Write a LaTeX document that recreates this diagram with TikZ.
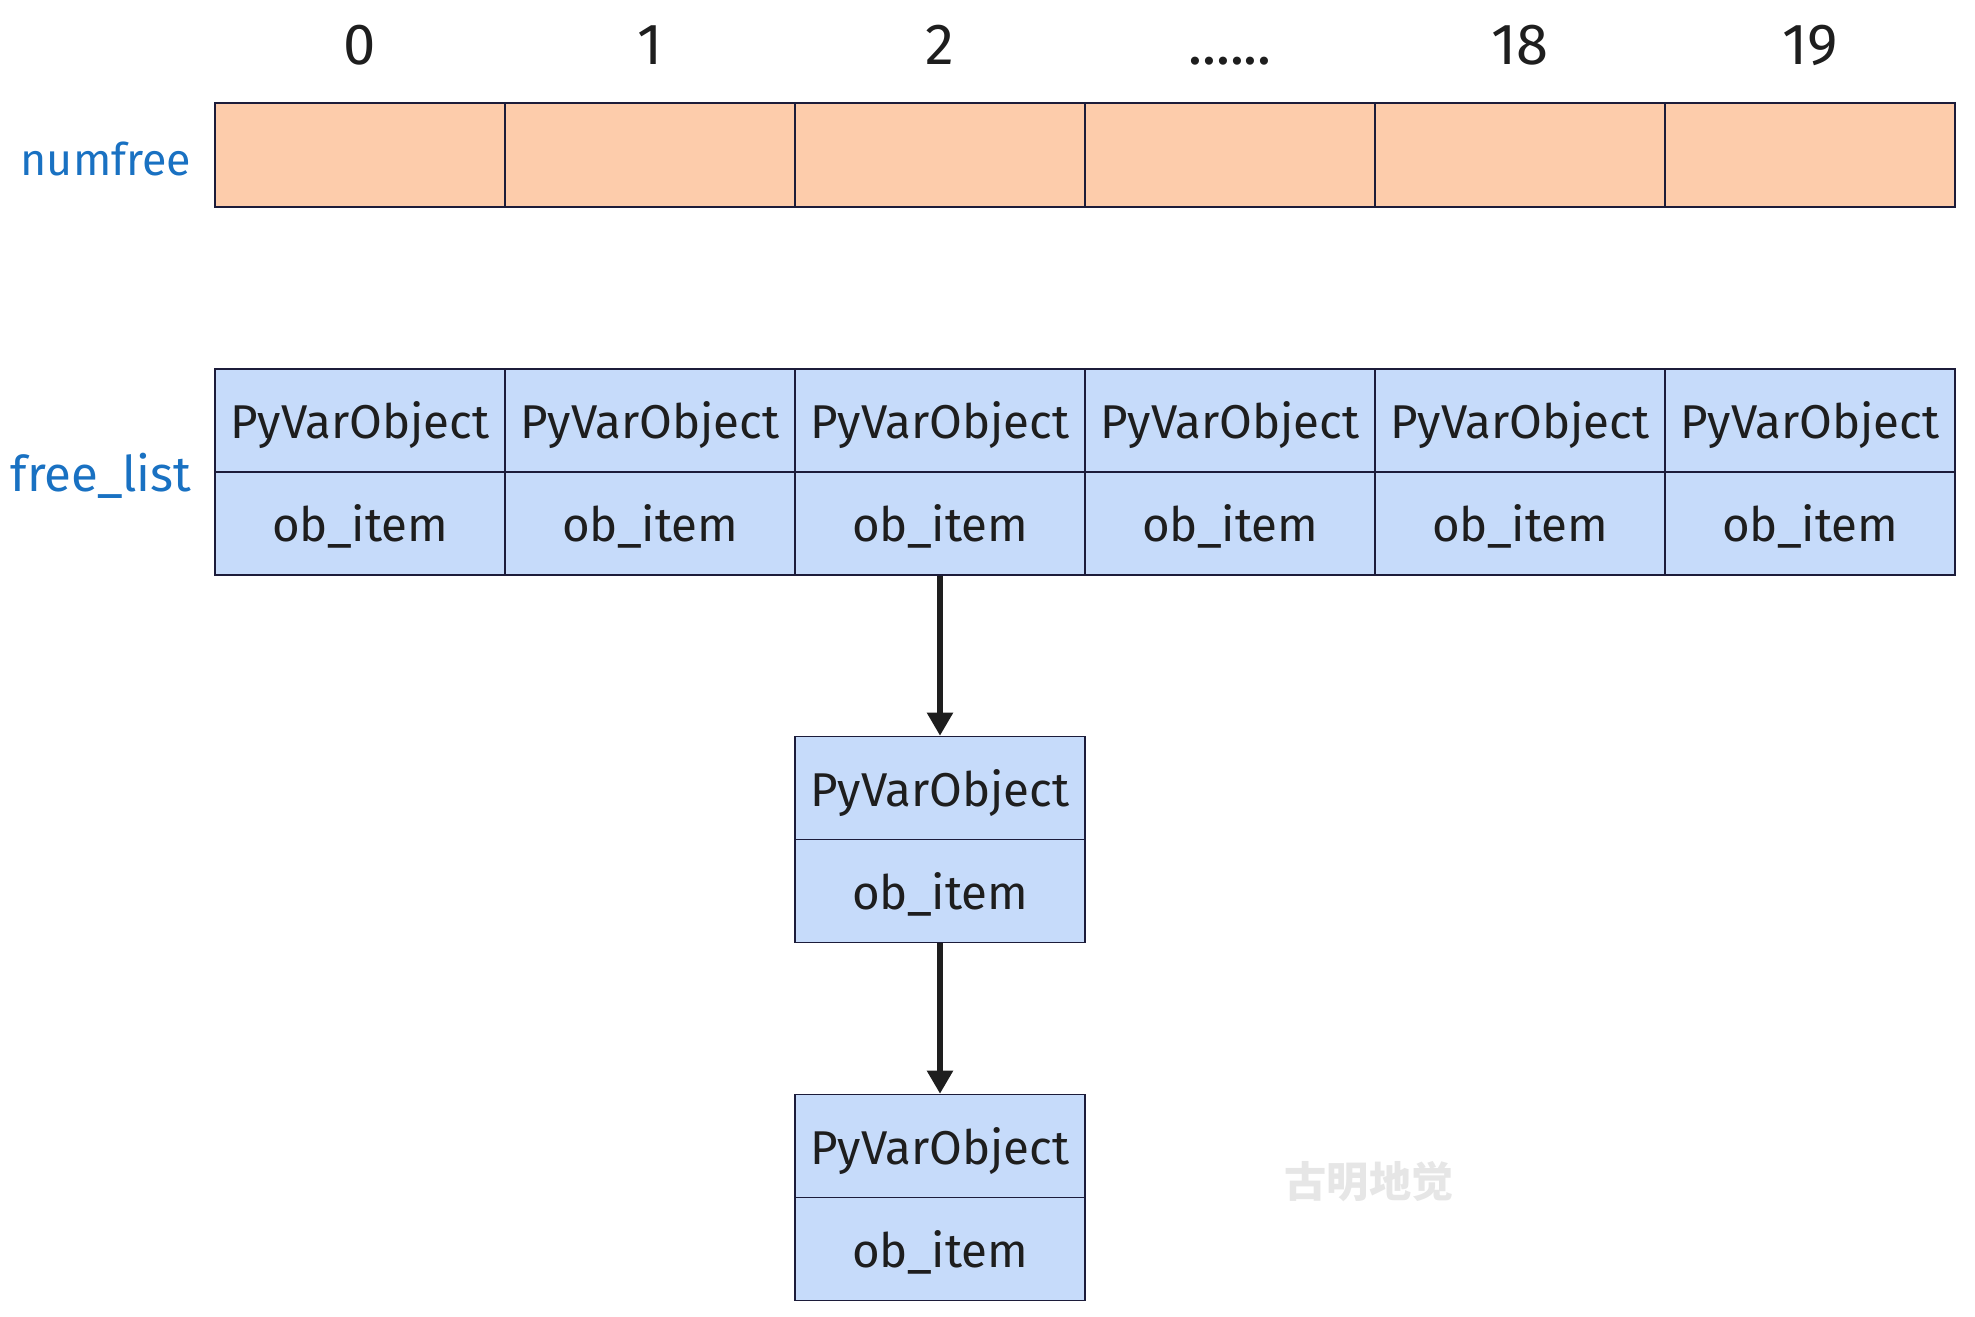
\documentclass[tikz,border=0pt]{standalone}
\usepackage{fontspec}
\setmainfont{Fira Sans}
\newfontfamily\cjk{Noto Sans CJK SC}
\usetikzlibrary{arrows.meta}
\definecolor{peach}{HTML}{FDCCAB}
\definecolor{objblue}{HTML}{C6DBFA}
\definecolor{boxline}{HTML}{1C1C3A}
\definecolor{ink}{HTML}{1E1E1E}
\definecolor{labelblue}{HTML}{1971C2}
\definecolor{stampgray}{HTML}{E6E6E6}
\begin{document}
\begin{tikzpicture}[x=0.02cm,y=-0.02cm,
	cell/.style={draw=boxline, line width=0.9pt, minimum width=5.8cm, minimum height=2.06cm, inner sep=0pt, text height=21pt, text depth=0pt, text=ink, font=\fontsize{27}{30}\selectfont},
	numcell/.style={cell, fill=peach, minimum height=2.08cm},
	objcell/.style={cell, fill=objblue},
	index/.style={anchor=base, text=ink, font=\fontsize{33}{36}\selectfont},
	side/.style={text=labelblue, font=\fontsize{25.5}{30}\selectfont},
	stamp/.style={text=stampgray, font=\cjk\bfseries\fontsize{24}{26}\selectfont},
	link/.style={-{Triangle[length=0.46cm,width=0.5cm]}, line width=3pt, draw=ink}]
	\useasboundingbox (0,0) rectangle (1975,1317);
	
	\node[index] (i0) at (360,65) {0};
	\node[index] (i1) at (650,65) {1};
	\node[index] (i2) at (940,65) {2};
	\node[index] (idots) at (1230,65) {......};
	\node[index] (i18) at (1520,65) {18};
	\node[index] (i19) at (1810,65) {19};
	
	\node[side] (numfree) at (106,159) {numfree};
	\node[numcell] (nf0) at (360,155) {};
	\node[numcell] (nf1) at (650,155) {};
	\node[numcell] (nf2) at (940,155) {};
	\node[numcell] (nfdots) at (1230,155) {};
	\node[numcell] (nf18) at (1520,155) {};
	\node[numcell] (nf19) at (1810,155) {};
	
	\node[side, font=\fontsize{28}{30}\selectfont] (freelist) at (101,476) {free\_list};
	\node[objcell] (py0) at (360,420.5) {PyVarObject};
	\node[objcell] (py1) at (650,420.5) {PyVarObject};
	\node[objcell] (py2) at (940,420.5) {PyVarObject};
	\node[objcell] (pydots) at (1230,420.5) {PyVarObject};
	\node[objcell] (py18) at (1520,420.5) {PyVarObject};
	\node[objcell] (py19) at (1810,420.5) {PyVarObject};
	
	\node[objcell] (ob0) at (360,523.5) {ob\_item};
	\node[objcell] (ob1) at (650,523.5) {ob\_item};
	\node[objcell] (ob2) at (940,523.5) {ob\_item};
	\node[objcell] (obdots) at (1230,523.5) {ob\_item};
	\node[objcell] (ob18) at (1520,523.5) {ob\_item};
	\node[objcell] (ob19) at (1810,523.5) {ob\_item};
	
	\node[objcell] (py2a) at (940,788) {PyVarObject};
	\node[objcell] (ob2a) at (940,891) {ob\_item};
	
	\node[objcell] (py2b) at (940,1146) {PyVarObject};
	\node[objcell] (ob2b) at (940,1249) {ob\_item};
	
	\node[stamp] (sign) at (1369,1182) {古明地觉};
	
	\draw[link] (ob2) -- (py2a);
	\draw[link] (ob2a) -- (py2b);
\end{tikzpicture}
\end{document}
